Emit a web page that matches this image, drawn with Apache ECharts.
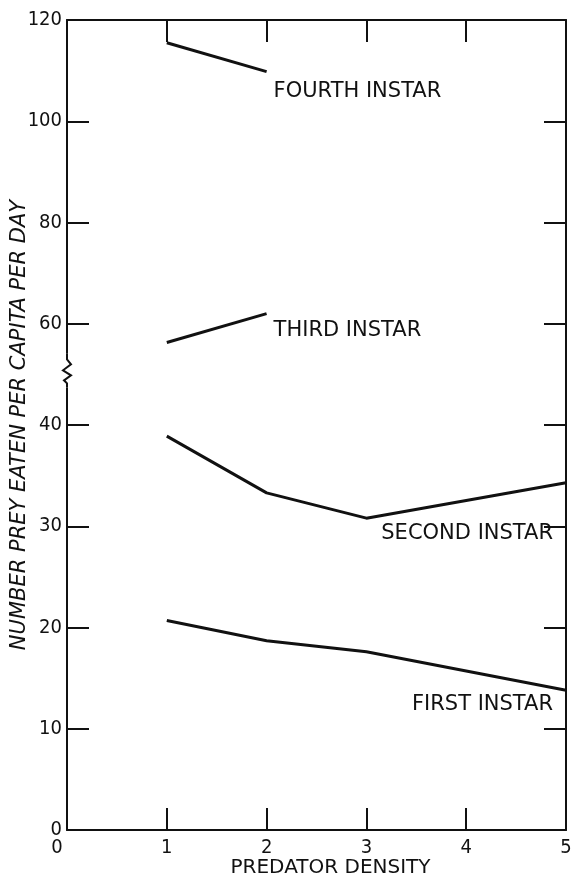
<!DOCTYPE html>
<html>
<head>
<meta charset="utf-8">
<script src="https://cdn.jsdelivr.net/npm/echarts@6/dist/echarts.min.js"></script>
<style>
  html, body { margin: 0; padding: 0; background: #fff; }
  #chart { width: 572px; height: 880px; }
</style>
</head>
<body>
<div id="chart"></div>
<script>
// predator density values per instar curve
const densityA = [1, 2];
const densityB = [1, 2, 3, 5];

const fourthInstar = [115.5, 109.8];
const thirdInstar = [56.3, 62.0];
const secondInstar = [38.9, 33.3, 30.8, 34.3];
const firstInstar = [20.7, 18.7, 17.6, 13.8];

// y axis is broken above 40: ticks 0..40 by 10, then 60..120 by 20
const yTickLabels = [0, 10, 20, 30, 40, 60, 80, 100, 120];

const curveNames = ["FOURTH INSTAR", "THIRD INSTAR", "SECOND INSTAR", "FIRST INSTAR"];
// label anchor in data units [density, prey eaten], plus alignment
const labelAnchors = [[2.07, 105.8], [2.07, 58.6], [4.87, 29.3], [4.87, 12.4]];
const labelAlign = ["left", "left", "right", "right"];

const font = "DejaVu Sans";
const tickFont = "DejaVu Sans Condensed, DejaVu Sans";
const ink = "#111";

// map a real value onto the compressed axis position
const toPos = (v) => (v <= 40 ? v : 40 + (v - 40) / 2);
const pairs = (xs, ys) => xs.map((x, i) => [x, toPos(ys[i])]);

const chart = echarts.init(document.getElementById("chart"));

const lineSeries = (data) => ({
  type: "line",
  data: data,
  symbol: "none",
  lineStyle: { color: ink, width: 3 },
  silent: true,
});

const frameLine = { onZero: false, lineStyle: { color: ink, width: 2 } };
const innerTick = { inside: true, length: 22, lineStyle: { color: ink, width: 2 } };

const option = {
  animation: false,
  backgroundColor: "#fff",
  grid: { left: 67, right: 6, top: 20, bottom: 50, containLabel: false, outerBoundsMode: "none" },
  xAxis: [
    {
      type: "value",
      min: 0,
      max: 5,
      interval: 1,
      position: "bottom",
      name: "PREDATOR DENSITY",
      nameLocation: "middle",
      nameGap: 28,
      nameMoveOverlap: false,
      nameTextStyle: { fontFamily: font, fontSize: 20, color: ink, padding: [0, 0, 0, 28] },
      axisLine: frameLine,
      axisTick: innerTick,
      axisLabel: {
        fontFamily: tickFont,
        fontSize: 20,
        color: ink,
        margin: 8,
        formatter: (v) => (v === 0 ? "{z|0}" : String(v)),
        rich: { z: { fontFamily: tickFont, fontSize: 20, color: ink, padding: [0, 20, 0, 0] } },
      },
      splitLine: { show: false },
    },
    {
      type: "value",
      min: 0,
      max: 5,
      interval: 1,
      position: "top",
      axisLine: frameLine,
      axisTick: innerTick,
      axisLabel: { show: false },
      splitLine: { show: false },
    },
  ],
  yAxis: [
    {
      type: "value",
      min: 0,
      max: 80,
      interval: 10,
      position: "left",
      name: "NUMBER PREY EATEN PER CAPITA PER DAY",
      nameLocation: "middle",
      nameGap: 37,
      nameMoveOverlap: false,
      nameTextStyle: { fontFamily: font, fontSize: 21, fontStyle: "italic", color: ink },
      axisLine: frameLine,
      axisTick: innerTick,
      axisLabel: {
        fontFamily: tickFont,
        fontSize: 20,
        color: ink,
        margin: 5,
        formatter: (v) => String(yTickLabels[Math.round(v / 10)]),
      },
      splitLine: { show: false },
    },
    {
      type: "value",
      min: 0,
      max: 80,
      interval: 10,
      position: "right",
      axisLine: frameLine,
      axisTick: innerTick,
      axisLabel: { show: false },
      splitLine: { show: false },
    },
  ],
  series: [
    lineSeries(pairs(densityA, fourthInstar)),
    lineSeries(pairs(densityA, thirdInstar)),
    lineSeries(pairs(densityB, secondInstar)),
    lineSeries(pairs(densityB, firstInstar)),
  ],
};

chart.setOption(option);

// axis break zigzag and curve labels, placed through the axis scales
const x0 = chart.convertToPixel({ xAxisIndex: 0 }, 0);
const yBreak = chart.convertToPixel({ yAxisIndex: 0 }, 45.5);
const zig = [
  [x0, yBreak - 16],
  [x0, yBreak - 10],
  [x0 + 4, yBreak - 5],
  [x0 - 4, yBreak + 1],
  [x0 + 4, yBreak + 6],
  [x0 - 3, yBreak + 11],
  [x0, yBreak + 14],
  [x0, yBreak + 18],
];

const graphics = [
  {
    type: "rect",
    shape: { x: x0 - 5, y: yBreak - 16, width: 10, height: 34 },
    style: { fill: "#fff" },
    z: 100,
  },
  {
    type: "polyline",
    shape: { points: zig },
    style: { stroke: ink, lineWidth: 2, fill: null },
    z: 101,
  },
];

curveNames.forEach((name, i) => {
  const p = chart.convertToPixel({ gridIndex: 0 }, [labelAnchors[i][0], toPos(labelAnchors[i][1])]);
  graphics.push({
    type: "text",
    x: p[0],
    y: p[1],
    style: {
      text: name,
      fontFamily: font,
      fontSize: 21,
      fill: ink,
      align: labelAlign[i],
      verticalAlign: "middle",
    },
    z: 50,
  });
});

chart.setOption({ graphic: graphics });
</script>
</body>
</html>
